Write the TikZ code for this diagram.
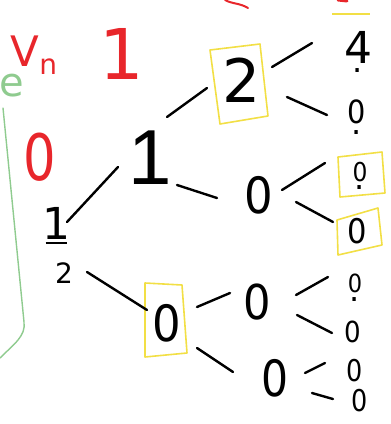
\documentclass[tikz,border=0pt]{standalone}
\usepackage{fontspec}
\setmainfont{DejaVu Sans}
\newfontfamily\plainone{Liberation Sans}
\usetikzlibrary{calc}
\definecolor{hred}{HTML}{E8262B}
\definecolor{hyel}{HTML}{F2DF45}
\definecolor{hgreen}{HTML}{8FCB8F}
\tikzset{
  digit/.style={inner sep=0pt, anchor=center, text=black},
  reddigit/.style={inner sep=0pt, anchor=center, text=hred},
  edge/.style={draw=black, line width=2.4pt, line cap=round},
  hibox/.style={draw=hyel, line width=1.6pt, line join=round},
}
\newcommand{\fs}[2]{\fontsize{#1}{#2}\selectfont}
\newcommand{\nz}[1]{\scalebox{#1}[1]{0}}
% digit with a dot below it: #1 = digit material, #2 = gap
\newcommand{\dstack}[2]{\vbox{\offinterlineskip\halign{\hfil##\hfil\cr #1\cr\noalign{\kern#2}\fs{32}{32}.\cr}}}
\begin{document}
\begin{tikzpicture}[x=1pt,y=-1pt]
\useasboundingbox (0,0) rectangle (391,424);
% red labels
\node[reddigit] (vn) at (34,55) {\fs{42}{42}V\raisebox{-8pt}{\fs{28}{28}n}};
\node[reddigit] (one) at (122,54) {\fs{70}{70}1};
\node[reddigit] (zr) at (40,157) {\fs{64}{64}\nz{0.8}};
% red fragments at top (cut off)
\draw[hred, line width=2pt, line cap=round] (225,0) .. controls (232,4) and (240,3) .. (248,8);
\draw[hred, line width=3pt, line cap=round] (338,0) -- (347,1);
\draw[hyel, line width=1.8pt] (332,14) -- (370,14);
% green
\node[inner sep=0pt, text=hgreen] (ge) at (12,86) {\fs{40}{40}e};
\draw[hgreen, line width=1.4pt, line cap=round] (3,108) -- (24,322) .. controls (26,336) and (14,344) .. (0,358);
% tree nodes
\node[digit] (root) at (56,243) {\rule{21pt}{2.2pt}};
\node[digit] (rtop) at (56,223) {\fs{44}{44}1};
\node[digit] (rbot) at (64,273) {\fs{28}{28}2};
\node[digit] (n1) at (150,158) {\fs{78}{78}\plainone 1};
\node[digit] (n2) at (242,80) {\fs{60}{60}2};
\node[digit] (n0a) at (259,195) {\fs{50}{50}\nz{0.9}};
\node[digit] (b0) at (167,323) {\fs{50}{50}\nz{0.9}};
\node[digit] (n0b) at (257,302) {\fs{48}{48}\nz{0.9}};
\node[digit] (n0c) at (275,378) {\fs{50}{50}\nz{0.85}};
\node[digit] (L1) at (358,52) {\dstack{\fs{44}{44}4}{5pt}};
\node[digit] (L2) at (357,117) {\dstack{\fs{32}{32}\nz{0.9}}{6pt}};
\node[digit] (L3) at (360,176) {\dstack{\fs{26}{26}\nz{0.9}}{4pt}};
\node[digit] (L4) at (357,231) {\fs{34}{34}\nz{0.9}};
\node[digit] (L5) at (355,288) {\dstack{\fs{25}{25}\nz{0.9}}{5pt}};
\node[digit] (L6) at (353,332) {\fs{29}{29}\nz{0.9}};
\node[digit] (L7) at (355,371) {\fs{30}{30}\nz{0.85}};
\node[digit] (L8) at (360,401) {\fs{30}{30}\nz{0.85}};
% highlight boxes
\draw[hibox] (210,50) -- (260,44) -- (268,116) -- (220,124) -- cycle;
\draw[hibox] (145,283) -- (182,285) -- (187,353) -- (145,357) -- cycle;
\draw[hibox] (338,157) -- (382,152) -- (385,193) -- (340,197) -- cycle;
\draw[hibox] (337,220) -- (378,208) -- (382,245) -- (338,255) -- cycle;
% connectors
\draw[edge] ($(root)+(11,-21)$) -- ($(n1)+(-32,9)$);
\draw[edge] ($(root)+(31,29)$) -- ($(b0)+(-20,-13)$);
\draw[edge] ($(n1)+(17,-41)$) -- ($(n2)+(-35,8)$);
\draw[edge] ($(n1)+(27,27)$) -- ($(n0a)+(-42,3)$);
\draw[edge] ($(n2)+(30,-13)$) -- ($(L1)+(-46,-9)$);
\draw[edge] ($(n2)+(45,17)$) -- ($(L2)+(-30,-2)$);
\draw[edge] ($(n0a)+(23,-5)$) -- ($(L3)+(-35,-13)$);
\draw[edge] ($(n0a)+(37,7)$) -- ($(L4)+(-24,-9)$);
\draw[edge] ($(b0)+(30,-16)$) -- ($(n0b)+(-27,-9)$);
\draw[edge] ($(b0)+(30,25)$) -- ($(n0c)+(-42,-6)$);
\draw[edge] ($(n0b)+(39,-7)$) -- ($(L5)+(-27,-11)$);
\draw[edge] ($(n0b)+(40,13)$) -- ($(L6)+(-21,1)$);
\draw[edge] ($(n0c)+(30,-5)$) -- ($(L7)+(-30,-8)$);
\draw[edge] ($(n0c)+(37,15)$) -- ($(L8)+(-27,-2)$);
\end{tikzpicture}
\end{document}
